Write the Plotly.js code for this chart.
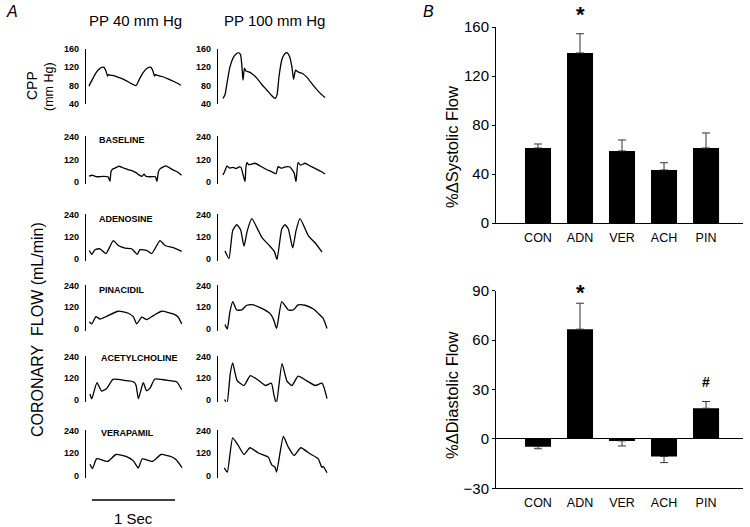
<!DOCTYPE html>
<html><head><meta charset="utf-8">
<script src="https://cdn.plot.ly/plotly-3.0.1.min.js"></script>
<style>html,body{margin:0;padding:0;background:#fff}#chart{width:750px;height:527px}</style>
</head><body><div id="chart"></div>
<script>
// ---------- Panel A data (time in ms, pressure mm Hg / flow mL/min) ----------
const cppLeftT = [0,36,84,133,157,181,205,223,235,253,313,374,446,506,566,602,650,699,723,747,771,789,801,819,880,952,1036,1109];
const cppLeftV = [79,92,108,118,120,120,112,101,104,103,101,97,91,85,80,92,108,118,120,120,112,101,104,103,100,95,88,81];
const cppRightT = [0,24,48,84,121,157,187,211,229,241,259,277,313,349,410,470,530,578,627,651,675,711,747,771,801,831,850,874,904,952,1012,1085,1157,1229];
const cppRightV = [52,60,85,121,140,149,152,148,120,92,118,112,110,106,96,82,70,60,52,60,100,138,150,152,144,120,94,114,110,107,98,81,66,54];

const baseLeftT = [0,36,60,96,169,229,253,265,283,313,361,410,470,530,566,602,639,663,687,747,801,819,837,856,928,976,1024,1072,1115];
const baseLeftV = [32,36,33,28,30,28,5,55,68,74,84,76,66,58,50,38,30,42,30,28,28,3,55,70,86,74,62,52,36];
const baseRightT = [0,24,48,84,121,157,193,217,241,265,277,289,313,349,386,446,518,590,639,663,699,735,771,807,856,880,904,934,988,1048,1120,1181,1229];
const baseRightV = [37,60,85,74,78,72,80,78,40,2,80,103,92,96,100,86,68,54,44,82,74,78,82,80,50,2,103,90,100,86,70,56,43];

const adenoLeftT = [4,33,72,133,205,293,353,434,514,582,615,695,756,856,916,1016,1117];
const adenoLeftV = [44,23,48,53,27,98,71,57,53,23,48,44,27,98,71,59,39];
const adenoRightT = [24,72,117,165,213,253,293,348,426,470,566,618,651,708,747,787,840,880,928,1029,1109,1193];
const adenoRightV = [41,0,152,184,155,67,152,217,152,114,67,39,-5,161,184,161,58,152,217,124,86,35];

const pinaLeftT = [4,33,84,133,213,353,474,534,575,636,695,775,876,1016,1076,1117];
const pinaLeftV = [40,28,68,55,70,98,87,68,28,65,52,74,98,83,65,28];
const pinaRightT = [24,52,84,117,165,225,277,305,365,467,566,612,646,708,787,847,904,988,1089,1148,1205,1253];
const pinaRightV = [25,0,96,151,105,105,128,133,133,114,86,49,3,151,105,105,133,131,110,86,60,3];

const achLeftT = [12,33,96,151,213,289,434,534,566,595,654,694,735,795,976,1056,1117];
const achLeftV = [31,4,95,48,62,114,107,100,82,4,95,50,64,116,106,100,55];
const achRightT = [20,48,88,117,169,253,329,422,510,583,612,643,711,771,831,904,1000,1112,1193,1253];
const achRightV = [0,-24,147,207,108,79,135,110,79,92,30,-25,203,104,79,132,108,79,92,5];

const verLeftT = [12,42,93,223,325,446,534,594,641,765,868,994,1048,1121];
const verLeftV = [60,37,90,75,112,102,78,40,88,75,112,100,85,42];
const verRightT = [16,52,117,184,253,325,426,546,587,627,646,727,787,856,937,1048,1148,1190,1208,1253];
const verRightV = [41,18,201,160,112,148,120,98,57,44,18,208,151,107,148,116,89,44,48,15];

const rowLabels = ['', 'BASELINE', 'ADENOSINE', 'PINACIDIL', 'ACETYLCHOLINE', 'VERAPAMIL'];
const cppTicks = [40, 80, 120, 160];
const flowTicks = [0, 120, 240];

// ---------- Panel B data ----------
const groups = ['CON', 'ADN', 'VER', 'ACH', 'PIN'];
const systolic = [61.2, 138.8, 58.8, 43.3, 61.2];
const systolicErr = [3.3, 15.7, 9.0, 5.9, 12.3];
const diastolic = [-4.7, 66.6, -1.2, -10.7, 18.6];
const diastolicErr = [1.3, 15.8, 3.1, 3.7, 4.1];

// ---------- layout helpers ----------
const W = 750, H = 527;
const px = v => v / W;
const py = v => 1 - v / H;
const FONT = 'Liberation Sans, Arial, Helvetica, sans-serif';

const rows = [
  {L:[cppLeftT,cppLeftV], R:[cppRightT,cppRightV]},
  {L:[baseLeftT,baseLeftV], R:[baseRightT,baseRightV]},
  {L:[adenoLeftT,adenoLeftV], R:[adenoRightT,adenoRightV]},
  {L:[pinaLeftT,pinaLeftV], R:[pinaRightT,pinaRightV]},
  {L:[achLeftT,achLeftV], R:[achRightT,achRightV]},
  {L:[verLeftT,verLeftV], R:[verRightT,verRightV]}
];
// pixel positions of top tick / zero tick per row
const rowPix = [[49,104],[137,182],[214.5,258.5],[285.5,329],[357,399.5],[430.5,475.5]];
const rowLabelY = [0,140,219,290,358,433];

const data = [];
const layout = {
  width: W, height: H,
  margin: {l:0, r:0, t:0, b:0},
  paper_bgcolor: '#fff', plot_bgcolor: 'rgba(0,0,0,0)',
  showlegend: false,
  font: {family: FONT, color: '#000'},
  annotations: [], shapes: []
};
const ax = n => n === 1 ? '' : String(n);

rows.forEach((r, i) => {
  const [top, zero] = rowPix[i];
  let yr, dom, tv;
  if (i === 0) {
    yr = [40, 160]; dom = [py(zero), py(top)]; tv = cppTicks;
  } else {
    const k = (zero - top) / 240;
    yr = [-12, 245]; dom = [py(zero + 12 * k), py(top - 5 * k)]; tv = flowTicks;
  }
  [['L', 86, 186, -36, 1169], ['R', 218, 330, -60, 1289]].forEach(([side, x0, x1, r0, r1], j) => {
    const n = 2 * i + j + 1;
    const s = r[side];
    data.push({
      type: 'scatter', mode: 'lines', x: s[0], y: s[1],
      xaxis: 'x' + ax(n), yaxis: 'y' + ax(n),
      line: {color: '#000', width: 1.3, shape: 'spline', smoothing: 0.5},
      cliponaxis: false, hoverinfo: 'skip'
    });
    layout['xaxis' + ax(n)] = {domain: [px(x0), px(x1)], range: [r0, r1], visible: false,
      anchor: 'y' + ax(n), fixedrange: true};
    layout['yaxis' + ax(n)] = {domain: dom, range: yr, anchor: 'x' + ax(n),
      showline: true, linecolor: '#000', linewidth: 1.2, ticks: '', showgrid: false, zeroline: false,
      tickvals: tv, tickfont: {family: FONT, size: 9, color: '#000', weight: 'bold'},
      ticklabelstandoff: 4, fixedrange: true};
  });
  if (rowLabels[i]) {
    layout.annotations.push({xref:'paper', yref:'paper', x: px(i >= 4 ? 99 : 97), y: py(rowLabelY[i]),
      xanchor:'left', yanchor:'middle', showarrow:false, text: rowLabels[i],
      font:{family: FONT, size: 9, color:'#000', weight:'bold'}});
  }
});

// ---------- Panel B bars ----------
function barTrace(vals, errs, n) {
  return {
    type: 'bar', x: groups, y: vals, xaxis: 'x' + n, yaxis: 'y' + n,
    marker: {color: '#000', line: {width: 0}}, width: 0.62,
    error_y: {type: 'data', symmetric: false,
      array: vals.map((v, k) => v >= 0 ? errs[k] : 0),
      arrayminus: vals.map((v, k) => v < 0 ? errs[k] : 0),
      color: '#333', thickness: 1, width: 4},
    hoverinfo: 'skip'
  };
}
data.push(barTrace(systolic, systolicErr, 13));
data.push(barTrace(diastolic, diastolicErr, 14));

const barX = (n) => ({domain: [px(496), px(743)], range: [-1, 4.88], type: 'category',
  anchor: 'y' + n, showline: true, linecolor: '#000', linewidth: 1, ticks: 'outside', ticklen: 3,
  tickcolor: 'rgba(0,0,0,0)', showgrid: false,
  tickfont: {family: FONT, size: 12.5, color: '#000'}, fixedrange: true});
layout.xaxis13 = barX(13);
layout.xaxis14 = barX(14);
layout.yaxis13 = {domain: [py(223), py(27)], range: [0, 160], anchor: 'x13',
  tickvals: [0, 40, 80, 120, 160], ticks: 'outside', ticklen: 3, tickcolor: '#000',
  showline: true, linecolor: '#000', linewidth: 1, showgrid: false, zeroline: false,
  tickfont: {family: FONT, size: 15, color: '#000'}, fixedrange: true};
layout.yaxis14 = {domain: [py(488.3), py(290.7)], range: [-30, 90], anchor: 'x14',
  tickvals: [-30, 0, 30, 60, 90], ticks: 'outside', ticklen: 3, tickcolor: '#000',
  showline: true, linecolor: '#000', linewidth: 1, showgrid: false,
  zeroline: true, zerolinecolor: '#000', zerolinewidth: 1,
  tickfont: {family: FONT, size: 15, color: '#000'}, fixedrange: true};

// ---------- text ----------
const A = layout.annotations;
const txt = (x, y, text, size, extra) => A.push(Object.assign({xref:'paper', yref:'paper',
  x: px(x), y: py(y), text, showarrow:false, xanchor:'center', yanchor:'middle',
  font:{family: FONT, size, color:'#000'}}, extra || {}));
txt(12, 11, '<i>A</i>', 16);
txt(429, 11, '<i>B</i>', 16);
txt(135.5, 20, 'PP 40 mm Hg', 15);
txt(274.5, 20, 'PP 100 mm Hg', 15);
txt(32, 86, 'CPP', 14, {textangle: -90});
txt(49, 86, '(mm Hg)', 12.5, {textangle: -90});
txt(37, 330, 'CORONARY\u00a0\u00a0FLOW (mL/min)', 16, {textangle: -90});
txt(133, 518, '1 Sec', 15);
txt(452, 147, '%\u0394Systolic Flow', 16.5, {textangle: -90});
txt(452, 395, '%\u0394Diastolic Flow', 16.5, {textangle: -90});
// significance markers
A.push({xref:'x13', yref:'paper', x:'ADN', y: py(15), text:'*', showarrow:false,
  xanchor:'center', yanchor:'middle', font:{family: FONT, size: 22, color:'#000', weight:'bold'}});
A.push({xref:'x14', yref:'paper', x:'ADN', y: py(292), text:'*', showarrow:false,
  xanchor:'center', yanchor:'middle', font:{family: FONT, size: 22, color:'#000', weight:'bold'}});
A.push({xref:'x14', yref:'paper', x:'PIN', y: py(382), text:'#', showarrow:false,
  xanchor:'center', yanchor:'middle', font:{family: FONT, size: 14, color:'#000', weight:'bold'}});

// scale bar
layout.shapes.push({type:'line', xref:'paper', yref:'paper', x0: px(92), x1: px(175),
  y0: py(500), y1: py(500), line:{color:'#000', width: 1.5}});

Plotly.newPlot('chart', data, layout, {displayModeBar: false, staticPlot: true});
</script>
</body></html>
